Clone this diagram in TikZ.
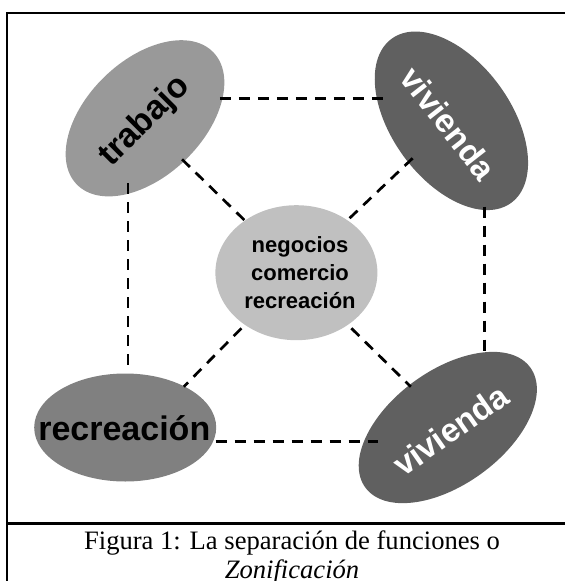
\documentclass[tikz,border=0pt]{standalone}
\usepackage{fontspec}
\setmainfont{Liberation Serif}
\newfontfamily\labfont{Liberation Sans}
\usetikzlibrary{shapes.geometric}
\definecolor{gTrab}{HTML}{999999}
\definecolor{gViv}{HTML}{606060}
\definecolor{gRec}{HTML}{808080}
\definecolor{gCen}{HTML}{C0C0C0}
\begin{document}
\begin{tikzpicture}[x=1pt,y=-1pt,
  blob/.style={ellipse,draw=none,inner sep=0pt},
  lbl/.style={font=\labfont\bfseries\fontsize{34}{34}\selectfont,inner sep=0pt},
  lbls/.style={font=\labfont\bfseries\fontsize{33}{33}\selectfont,inner sep=0pt},
  link/.style={line width=2.7pt,dash pattern=on 11pt off 8pt},
  frameline/.style={line width=2.2pt},
  captext/.style={font=\fontsize{26.6}{29}\selectfont,inner sep=0pt,anchor=base}]
\useasboundingbox (0,0) rectangle (565,581);
% frame
\draw[frameline] (7,581) -- (7,12.6) -- (565,12.6);
\draw[frameline] (7,523.5) -- (565,523.5);
% blobs
\node[blob,fill=gTrab,minimum width=190pt,minimum height=116pt,rotate=44] (trabajo) at (145,118.3) {};
\node[blob,fill=gViv,minimum width=203pt,minimum height=119pt,rotate=-54] (vivA) at (451.4,120.8) {};
\node[blob,fill=gViv,minimum width=204pt,minimum height=114pt,rotate=36] (vivB) at (447.8,427.5) {};
\node[blob,fill=gRec,minimum width=182pt,minimum height=108pt] (recre) at (125.2,427.5) {};
\node[blob,fill=gCen,minimum width=162pt,minimum height=135pt] (centro) at (296.4,272.7) {};
% labels
\node[lbl,rotate=45] (ltrab) at (145,121.5) {trabajo};
\node[lbls,rotate=-52,text=white] (lvivA) at (448.6,123.3) {vivienda};
\node[lbls,rotate=35,text=white] (lvivB) at (450.4,430) {vivienda};
\node[lbl,anchor=base] (lrec) at (124.3,440) {recreación};
\node[font=\labfont\bfseries\fontsize{22}{27.8}\selectfont,align=center,inner sep=0pt] (lcen) at (300,272.5) {negocios\\comercio\\recreación};
% connector ends
\coordinate (a1) at (219.8,98.3);  \coordinate (a2) at (383.8,98.3);
\coordinate (b1) at (127.9,183.3); \coordinate (b2) at (127.9,373.3);
\coordinate (c1) at (484.7,206.7); \coordinate (c2) at (484.7,355);
\coordinate (d1) at (215.5,441.7); \coordinate (d2) at (377.7,441.7);
\coordinate (e1) at (182,159.3);   \coordinate (e2) at (245,220.7);
\coordinate (f1) at (412.6,158.3); \coordinate (f2) at (347.7,220);
\coordinate (g1) at (241.4,328.3); \coordinate (g2) at (183.8,386.7);
\coordinate (h1) at (351.4,328.3); \coordinate (h2) at (410.8,386.7);
\draw[link] (a1) -- (a2);
\draw[link] (b1) -- (b2);
\draw[link] (c1) -- (c2);
\draw[link] (d1) -- (d2);
\draw[link] (e1) -- (e2);
\draw[link] (f1) -- (f2);
\draw[link] (g1) -- (g2);
\draw[link] (h1) -- (h2);
% caption
\node[captext] (cap1) at (292,549.3) {Figura 1: La separación de funciones o};
\node[captext] (cap2) at (292,578.3) {\textit{Zonificación}};
\end{tikzpicture}
\end{document}
